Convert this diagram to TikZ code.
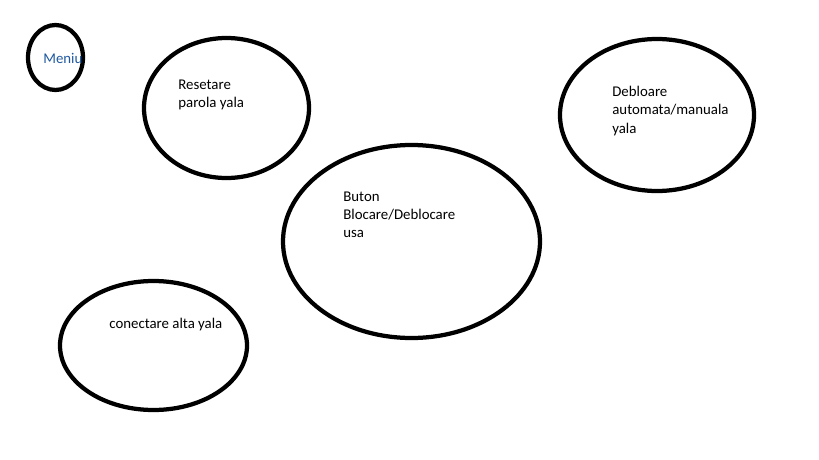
\documentclass[tikz,border=0pt]{standalone}
\usepackage{fontspec}
\setmainfont{Carlito}
\usetikzlibrary{shapes.geometric}
\definecolor{menublue}{RGB}{30,88,160}
\tikzset{
  bubble/.style={draw,line width=0.085cm,ellipse,inner sep=0pt},
  txt/.style={anchor=west,inner sep=0pt,align=left,font=\fontsize{8.45}{10.3}\selectfont}
}
\begin{document}
\begin{tikzpicture}[x=0.02cm,y=-0.02cm]
\useasboundingbox (0,0) rectangle (819,460);
%ellipses
\foreach \n/\x/\y/\w/\h in {meniu/55.5/57.5/55/65,reset/226.5/108/165/140,buton/411.5/241.5/257/193,debl/657/115/194/152,conect/153.5/345.5/187/129}
{\node[bubble,minimum width=\w*0.02cm,minimum height=\h*0.02cm] (\n) at (\x,\y) {};}
%texts
\node[txt,text=menublue] (tmeniu) at (43,58.5) {Meniu};
\node[txt] (treset) at (178,95) {Resetare\\parola yala};
\node[txt] (tbuton) at (343,215) {Buton\\Blocare/Deblocare\\usa};
\node[txt] (tdebl) at (612,111) {Debloare\\automata/manuala\\yala};
\node[txt] (tconect) at (109,324.5) {conectare alta yala};
\end{tikzpicture}
\end{document}
